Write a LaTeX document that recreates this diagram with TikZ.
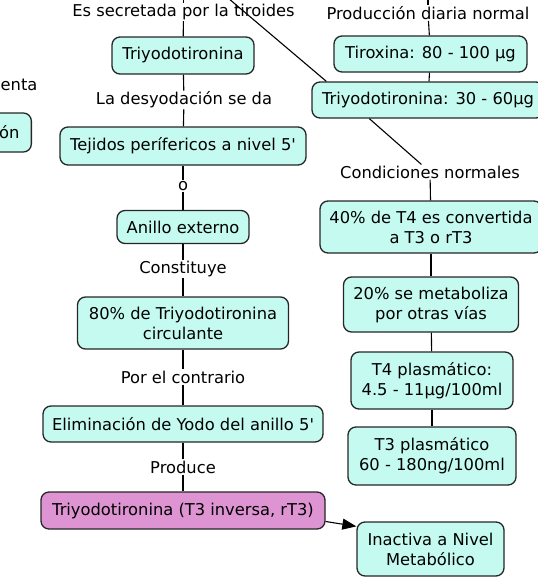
\documentclass[tikz,border=0pt]{standalone}
\usepackage{fontspec}
\setmainfont{DejaVu Sans}
\usetikzlibrary{arrows.meta,calc}
\definecolor{cbox}{RGB}{196,250,240}
\definecolor{pbox}{RGB}{222,148,210}
\begin{document}
\begin{tikzpicture}[x=1pt,y=-1pt,
  every node/.style={font=\fontsize{16.3}{20}\selectfont},
  concept/.style={draw=black!85, line width=1.3pt, fill=cbox, rounded corners=8pt, align=center, inner sep=0pt},
  pinkc/.style={concept, fill=pbox},
  linkl/.style={inner sep=1pt, align=center},
  conn/.style={line width=1.1pt, draw=black}]
\useasboundingbox (0,0) rectangle (538,579);

% left column
\node[linkl] (lsec) at (183.5,12) {Es secretada por la tiroides};
\node[concept, minimum width=142pt, minimum height=37pt] (tri1) at (183,55.5) {Triyodotironina};
\node[linkl] (ldes) at (184,100) {La desyodación se da};
\node[concept, minimum width=246pt, minimum height=38pt] (tej) at (183,146) {Tejidos perífericos a nivel 5\textquotesingle};
\node[linkl] (lo) at (183,186) {o};
\node[concept, minimum width=132pt, minimum height=33pt] (anillo) at (183,227) {Anillo externo};
\node[linkl] (lcons) at (183,269) {Constituye};
\node[concept, minimum width=211pt, minimum height=52pt] (p80) at (183,323) {80\% de Triyodotironina\\circulante};
\node[linkl] (lcont) at (183,377) {Por el contrario};
\node[concept, minimum width=280pt, minimum height=36pt] (elim) at (183,424) {Eliminación de Yodo del anillo 5\textquotesingle};
\node[linkl] (lprod) at (183,467) {Produce};
\node[pinkc, minimum width=284pt, minimum height=37pt] (pink) at (183,510.5) {Triyodotironina (T3 inversa, rT3)};
\node[concept, minimum width=147pt, minimum height=54pt] (inact) at (430.5,549) {Inactiva a Nivel\\Metabólico};

% right column
\node[linkl] (lpd) at (428,13) {Producción diaria normal};
\node[concept, minimum width=193pt, minimum height=36pt] (tirox) at (430.5,54) {Tiroxina: 80 - 100 μg};
\node[concept, minimum width=232pt, minimum height=36pt] (tri2) at (428,100) {Triyodotironina: 30 - 60μg};
\node[linkl] (lcond) at (430,172) {Condiciones normales};
\node[concept, minimum width=222pt, minimum height=52pt] (p40) at (431,227) {40\% de T4 es convertida\\a T3 o rT3};
\node[concept, minimum width=175pt, minimum height=55pt] (p20) at (431,304.5) {20\% se metaboliza\\por otras vías};
\node[concept, minimum width=162pt, minimum height=57pt] (t4) at (432,380.5) {T4 plasmático:\\4.5 - 11μg/100ml};
\node[concept, minimum width=168pt, minimum height=58pt] (t3) at (432,456) {T3 plasmático\\60 - 180ng/100ml};

% cut-off pieces at the left edge
\node[inner sep=0pt, anchor=west] (lenta) at (0.5,85) {enta};
\node[concept, minimum height=39pt, inner xsep=12pt, anchor=east] (lon) at (32,132.5) {ón};

% free ends
\coordinate (top1) at (183.5,-2);
\coordinate (top2) at (428,-2);
\coordinate (topd) at (228,-2);

% connectors
\draw[conn] (top1) -- (lsec);
\draw[conn] (lsec) -- (tri1);
\draw[conn] (tri1) -- (ldes);
\draw[conn] (ldes) -- (tej);
\draw[conn] (tej) -- (lo);
\draw[conn] (lo) -- (anillo);
\draw[conn] (anillo) -- (lcons);
\draw[conn] (lcons) -- (p80);
\draw[conn] (p80) -- (lcont);
\draw[conn] (lcont) -- (elim);
\draw[conn] (elim) -- (lprod);
\draw[conn] (lprod) -- (pink);
\draw[conn, -{Triangle[length=14pt,width=11pt]}] ($(pink.east)+(0,11)$) -- ($(inact.north west)+(0,5)$);

\draw[conn] (top2) -- (lpd);
\draw[conn] (lpd) -- (tirox);
\draw[conn] (tirox) -- (tri2);
\draw[conn] (topd) -- ($(tri2.north west)+(15,0)$);
\draw[conn] ($(tri2.south west)+(58,0)$) -- (lcond);
\draw[conn] (lcond) -- (p40);
\draw[conn] (p40) -- (p20);
\draw[conn] (p20) -- (t4);
\draw[conn] (t4) -- (t3);
\end{tikzpicture}
\end{document}
